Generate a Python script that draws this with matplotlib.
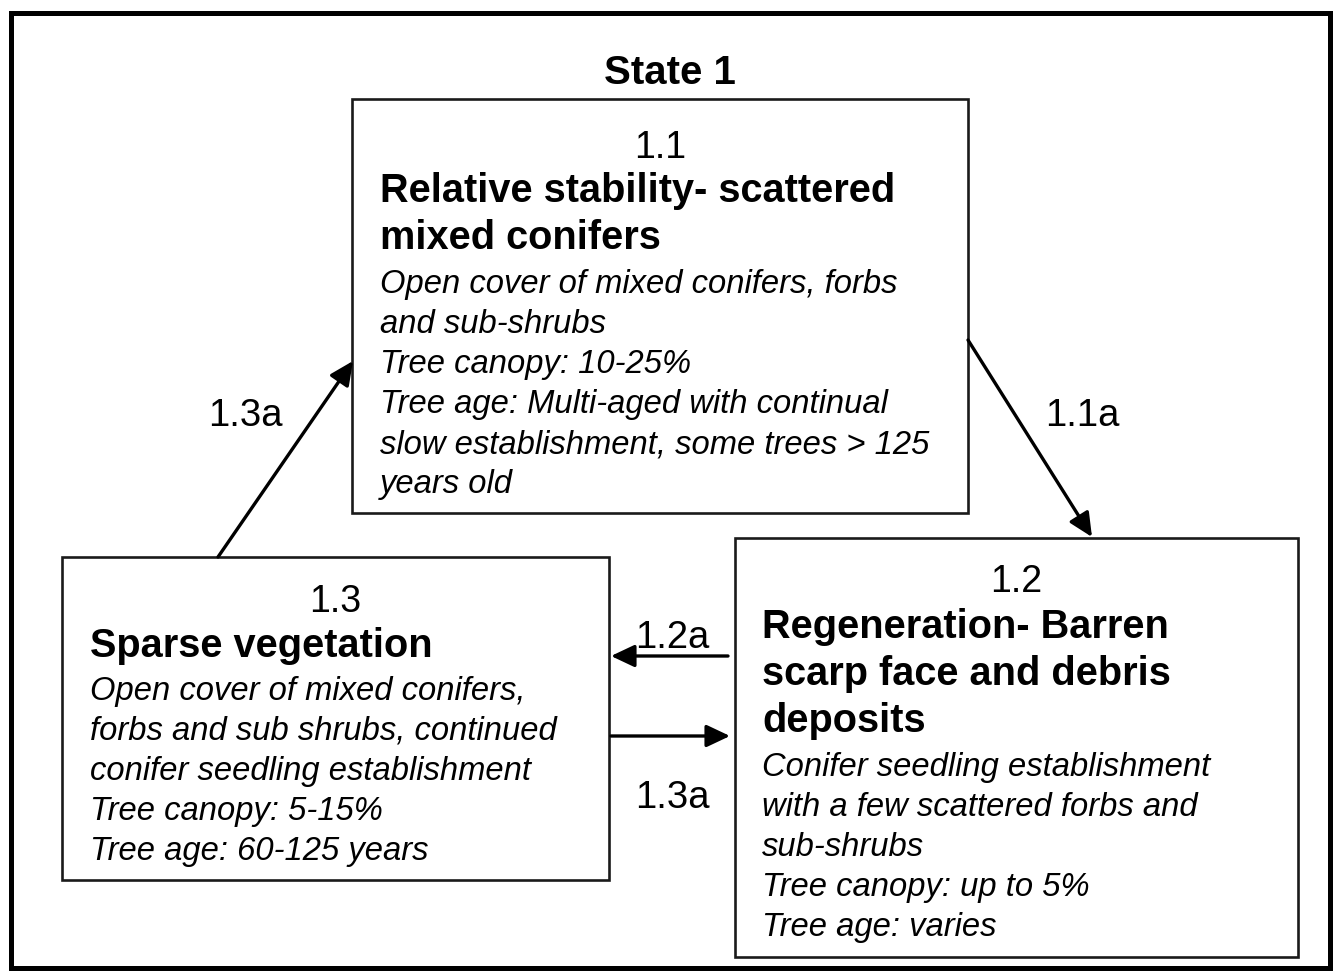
import matplotlib
matplotlib.use('Agg')
import matplotlib.pyplot as plt
from matplotlib.patches import Rectangle

plt.rcParams['font.family'] = ['Liberation Sans', 'DejaVu Sans']

# --- content ---
diagram_title = "State 1"
state_ids = ["1.1", "1.2", "1.3"]
state_titles = [
    ["Relative stability- scattered", "mixed conifers"],
    ["Regeneration- Barren", "scarp face and debris", "deposits"],
    ["Sparse vegetation"],
]
state_descs = [
    ["Open cover of mixed conifers, forbs", "and sub-shrubs", "Tree canopy: 10-25%",
     "Tree age: Multi-aged with continual", "slow establishment, some trees > 125",
     "years old"],
    ["Conifer seedling establishment", "with a few scattered forbs and",
     "sub-shrubs", "Tree canopy: up to 5%", "Tree age: varies"],
    ["Open cover of mixed conifers,", "forbs and sub shrubs, continued",
     "conifer seedling establishment", "Tree canopy: 5-15%", "Tree age: 60-125 years"],
]
transition_labels = ["1.1a", "1.2a", "1.3a", "1.3a"]

# --- layout (pixel coords, y down) ---
# box: x0, y0, x1, y1 ; text left x ; baselines for id, first title line, first desc line
boxes = [(352, 99, 968, 513), (735, 538, 1298, 957), (62, 557, 609, 880)]
text_x = [380, 762, 90]
id_base = [158, 592, 612]
title_base = [202, 638, 657]
desc_base = [293, 776, 700]
title_step = 47
desc_step = 40

arrows = [((968, 340), (1092, 537)),
          ((728, 656), (611, 656)),
          ((218, 557), (353, 361)),
          ((611, 736), (730, 736))]
label_pos = [(1082, 426), (672, 648), (245, 426), (672, 808)]

fig = plt.figure(figsize=(13.37, 9.74), dpi=100)
ax = fig.add_axes([0, 0, 1, 1])
ax.set_xlim(0, 1337)
ax.set_ylim(974, 0)
ax.axis('off')

# outer frame
ax.add_patch(Rectangle((11, 13), 1319, 955, fill=False, lw=3.6, ec='black'))
ax.text(670, 84, diagram_title, ha='center', va='baseline', fontsize=29,
        fontweight='bold')

for i, (x0, y0, x1, y1) in enumerate(boxes):
    ax.add_patch(Rectangle((x0, y0), x1 - x0, y1 - y0, fill=False, lw=1.9,
                           ec='#1a1a1a'))
    ax.text((x0 + x1) / 2, id_base[i], state_ids[i], ha='center',
            va='baseline', fontsize=27)
    for j, line in enumerate(state_titles[i]):
        ax.text(text_x[i], title_base[i] + j * title_step, line, ha='left',
                va='baseline', fontsize=28.6, fontweight='bold')
    for j, line in enumerate(state_descs[i]):
        ax.text(text_x[i], desc_base[i] + j * desc_step, line, ha='left',
                va='baseline', fontsize=23.6, style='italic')

for (start, end), lab, pos in zip(arrows, transition_labels, label_pos):
    ax.annotate('', xy=end, xytext=start,
                arrowprops=dict(arrowstyle='-|>,head_length=0.36,head_width=0.17',
                                lw=2.4, color='black',
                                mutation_scale=40, shrinkA=0, shrinkB=0))
    ax.text(pos[0], pos[1], lab, ha='center', va='baseline', fontsize=27.5)

fig.savefig('out.png', dpi=100, facecolor='white')
